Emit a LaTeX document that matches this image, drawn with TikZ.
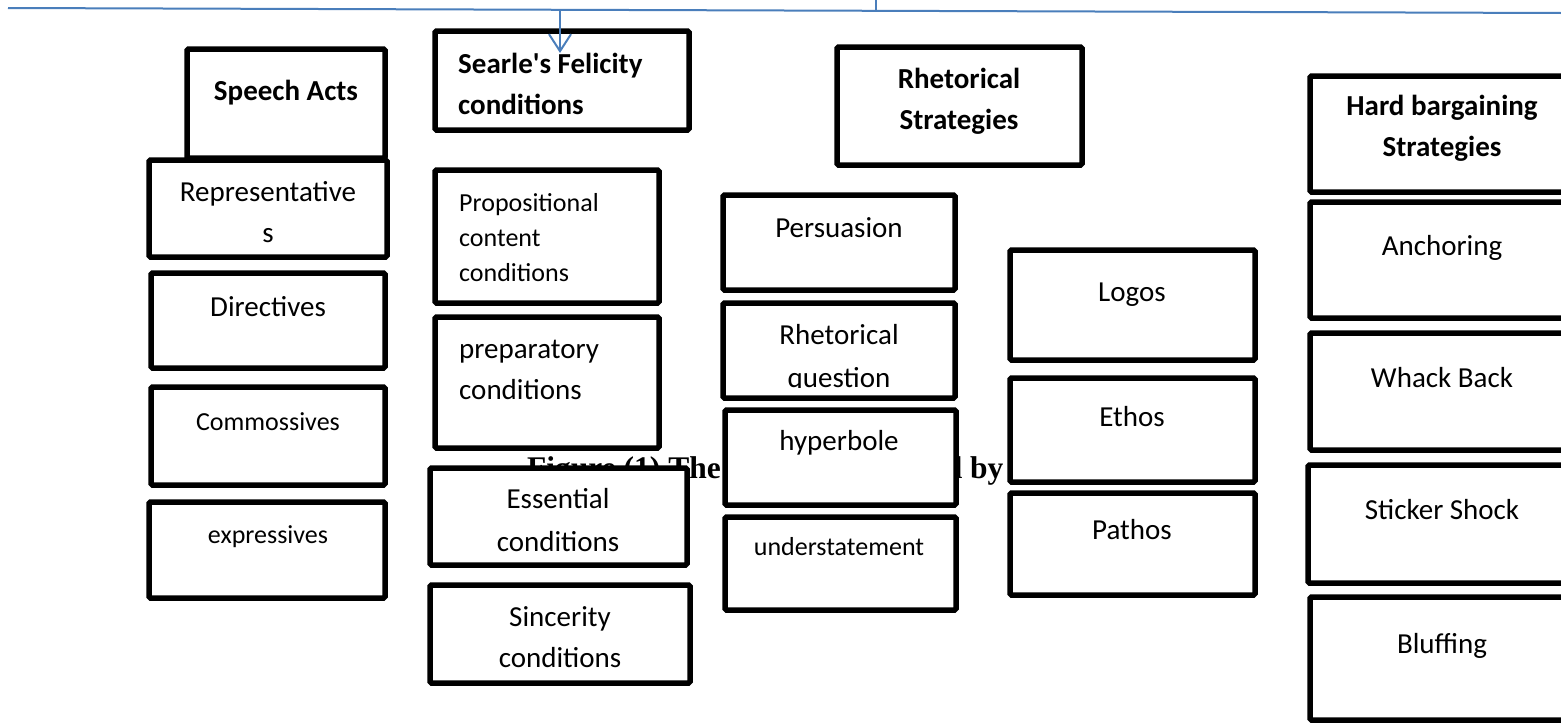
\documentclass[tikz,border=0pt]{standalone}
\usepackage{fontspec}
\setmainfont{Carlito}[Ligatures=TeXOff]
\newfontfamily\capfont{Liberation Serif}
\usetikzlibrary{arrows.meta}
\definecolor{wordblue}{HTML}{4A7EBB}
\newcommand\bx[5]{\node[box, minimum width={(#4)-(#2)}, minimum height={(#5)-(#3)}] (#1) at ({((#2)+(#4))/2},{((#3)+(#5))/2}) {};}
\begin{document}
\begin{tikzpicture}[x=1pt,y=-1pt,
  box/.style={draw=black, line width=5.5pt, fill=white, rectangle, inner sep=0pt, outer sep=0pt, rounded corners=1.5pt},
  txt/.style={inner sep=0pt, font=\fontsize{29}{41}\selectfont, align=center},
  stxt/.style={inner sep=0pt, font=\fontsize{26}{36}\selectfont, align=center},
  btxt/.style={inner sep=0pt, font=\fontsize{29}{41}\selectfont\bfseries, align=center},
  bluel/.style={draw=wordblue, line width=2pt}]
\useasboundingbox (0,0) rectangle (1561,723);
\fill[white] (0,0) rectangle (1561,723);

% caption (mostly hidden behind boxes)
\node[inner sep=0pt, anchor=base west, font=\capfont\fontsize{31.5}{36}\selectfont\bfseries] (cap) at (527,478) {Figure (1) The Model Developed by the Study};

% Speech acts column
\bx{speech}{187}{49}{385}{158}
\node[btxt] (speech-t) at (286,93) {Speech Acts};
\bx{rep}{149}{160}{387}{257}
\node[txt] (rep-t) at (268,212) {Representative\\s};
\bx{dir}{151}{273}{385}{368}
\node[txt] (dir-t) at (268,307) {Directives};
\bx{com}{151}{387}{385}{485}
\node[stxt] (com-t) at (268,422) {Commossives};
\bx{exp}{149}{502}{385}{598}
\node[stxt] (exp-t) at (268,537) {expressives};

% Felicity conditions column
\bx{searle}{435}{31}{689}{130}
\node[btxt, align=left, anchor=west] (searle-t) at (458,84) {Searle's Felicity\\conditions};
\bx{prop}{435}{170}{659}{303}
\node[stxt, align=left, anchor=west, font=\fontsize{26}{35}\selectfont] (prop-t) at (459,238) {Propositional\\content\\conditions};
\bx{prep}{435}{317}{659}{448}
\node[txt, align=left, anchor=west] (prep-t) at (459,370) {preparatory\\conditions};
\bx{ess}{430}{468}{687}{565}
\node[txt, font=\fontsize{29}{43}\selectfont] (ess-t) at (558,520) {Essential\\conditions};
\bx{sin}{430}{585}{690}{683}
\node[txt] (sin-t) at (560,637) {Sincerity\\conditions};

% Rhetorical strategies column
\bx{rhet}{837}{47}{1082}{165}
\node[btxt] (rhet-t) at (959,101) {Rhetorical\\Strategies};
\bx{pers}{723}{195}{955}{290}
\node[txt] (pers-t) at (839,228) {Persuasion};
\bx{rq}{723}{303}{955}{398}
\node[txt] (rq-t1) at (839,335) {Rhetorical};
\begin{scope}
\clip (700,350) rectangle (960,387);
\node[txt, anchor=base] (rq-t2) at (839,387) {question};
\end{scope}
\bx{hyp}{725}{410}{956}{505}
\node[txt] (hyp-t) at (839,443) {hyperbole};
\bx{und}{725}{517}{956}{610}
\node[stxt] (und-t) at (839,547) {understatement};

% Appeals column
\bx{logos}{1010}{250}{1255}{360}
\node[txt] (logos-t) at (1132,295) {Logos};
\bx{ethos}{1010}{378}{1255}{482}
\node[txt] (ethos-t) at (1132,417) {Ethos};
\bx{pathos}{1010}{493}{1255}{595}
\node[txt] (pathos-t) at (1132,530) {Pathos};

% Hard bargaining column
\bx{hard}{1310}{76}{1580}{192}
\node[btxt] (hard-t) at (1442,128) {Hard bargaining\\Strategies};
\bx{anch}{1310}{202}{1580}{318}
\node[txt] (anch-t) at (1442,248) {Anchoring};
\bx{whack}{1310}{333}{1580}{450}
\node[txt] (whack-t) at (1442,378) {Whack Back};
\bx{stick}{1308}{465}{1580}{583}
\node[txt] (stick-t) at (1442,510) {Sticker Shock};
\bx{bluff}{1310}{597}{1580}{720}
\node[txt] (bluff-t) at (1442,646) {Bluffing};

% blue connector line, tick and arrow
\coordinate (lineL) at (8,8);
\coordinate (lineR) at (1561,13);
\coordinate (arrS) at (560,9.5);
\coordinate (tickT) at (876,0);
\coordinate (tickB) at (876,11);
\draw[bluel] (lineL) -- (lineR);
\draw[bluel] (tickT) -- (tickB);
\draw[bluel, -{Straight Barb[length=17pt,width=22pt,line width=2pt]}] (arrS) -- (searle.north -| arrS) -- ++(0,22);
\end{tikzpicture}
\end{document}
